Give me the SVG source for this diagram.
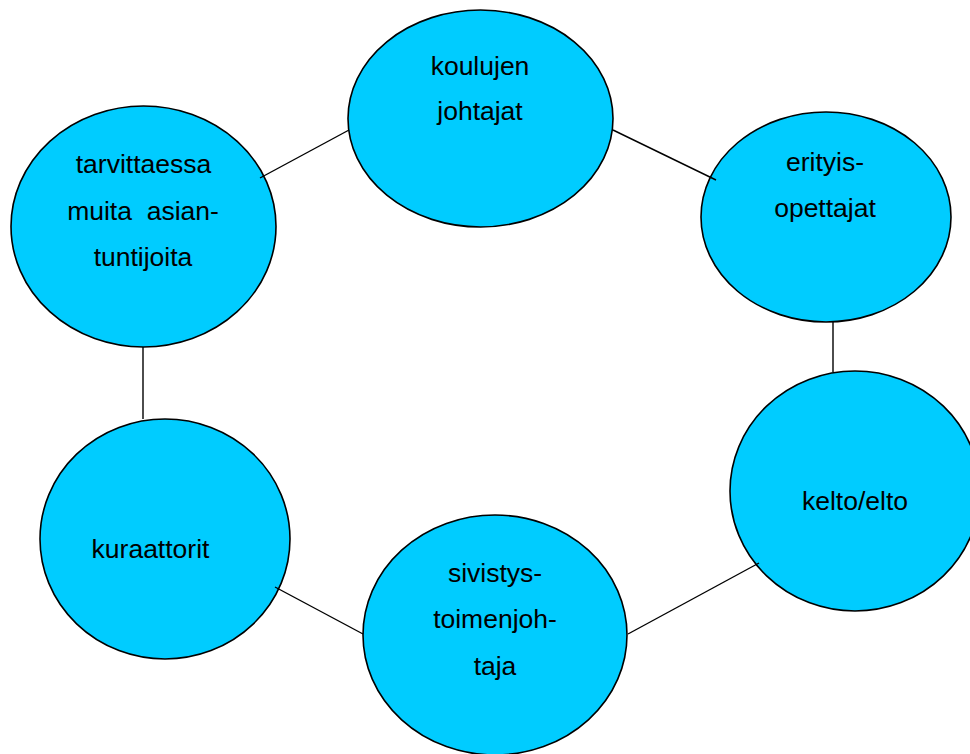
<svg xmlns="http://www.w3.org/2000/svg" width="970" height="754" viewBox="0 0 970 754">
<style>
.n{fill:#00CCFF;stroke:#000;stroke-width:1.6}
.t{font-family:"Liberation Sans",Arial,sans-serif;font-size:26.5px;fill:#000;text-anchor:middle;white-space:pre}
.c{stroke:#000;stroke-width:1.4;fill:none}
</style>
<rect width="970" height="754" fill="#fff"/>
<g id="koulujen">
<ellipse class="n" cx="480.5" cy="118.5" rx="132.5" ry="108.5"/>
<text class="t" x="480" y="75">koulujen</text>
<text class="t" x="480" y="120">johtajat</text>
</g>
<g id="erityis">
<ellipse class="n" cx="826" cy="217" rx="125" ry="105"/>
<text class="t" x="825" y="171">erityis-</text>
<text class="t" x="825" y="217">opettajat</text>
</g>
<g id="kelto">
<ellipse class="n" cx="855" cy="491" rx="125" ry="120"/>
<text class="t" x="855" y="510">kelto/elto</text>
</g>
<g id="sivistys">
<ellipse class="n" cx="495" cy="635" rx="132" ry="120"/>
<text class="t" x="495" y="582">sivistys-</text>
<text class="t" x="495" y="628">toimenjoh-</text>
<text class="t" x="495" y="675">taja</text>
</g>
<g id="kuraattorit">
<ellipse class="n" cx="165" cy="539" rx="125" ry="120"/>
<text class="t" x="150.5" y="558">kuraattorit</text>
</g>
<g id="tarvittaessa">
<ellipse class="n" cx="143.5" cy="226.5" rx="132.5" ry="120.5"/>
<text class="t" x="143.5" y="173">tarvittaessa</text>
<text class="t" x="143" y="220">muita  asian-</text>
<text class="t" x="143" y="266">tuntijoita</text>
</g>
<g id="connectors">
<line class="c" x1="260" y1="178" x2="349" y2="130"/>
<line class="c" x1="613" y1="130" x2="716" y2="180"/>
<line class="c" x1="833" y1="322" x2="833" y2="372"/>
<line class="c" x1="628" y1="634" x2="759" y2="563"/>
<line class="c" x1="275" y1="587" x2="363" y2="634"/>
<line class="c" x1="143" y1="347" x2="143" y2="419"/>
</g>
</svg>
